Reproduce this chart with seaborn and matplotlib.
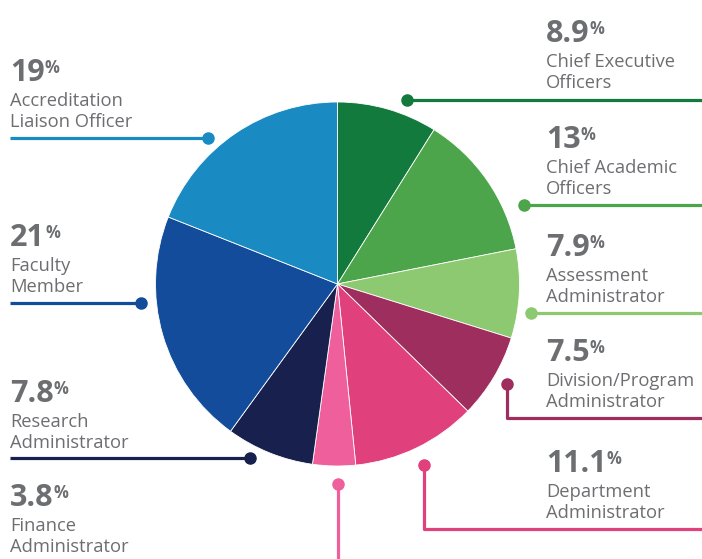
import matplotlib
matplotlib.use('Agg')
import matplotlib.pyplot as plt
import seaborn as sns

# slices, clockwise from 12 o'clock
roles = ['Chief Executive\nOfficers', 'Chief Academic\nOfficers', 'Assessment\nAdministrator',
         'Division/Program\nAdministrator', 'Department\nAdministrator', 'Finance\nAdministrator',
         'Research\nAdministrator', 'Faculty\nMember', 'Accreditation\nLiaison Officer']
shares = [8.9, 13, 7.9, 7.5, 11.1, 3.8, 7.8, 21, 19]
share_labels = ['8.9', '13', '7.9', '7.5', '11.1', '3.8', '7.8', '21', '19']
colors = ['#127a3c', '#4ca54a', '#8dc971', '#9e2e5e', '#e0407c', '#ef5f9c',
          '#18204d', '#134c9a', '#1a8ac2']

W, H = 702, 559
grey = '#6d6e71'

sns.set_theme(style='white')
plt.rcParams['font.family'] = ['Open Sans', 'DejaVu Sans']

fig = plt.figure(figsize=(W / 100, H / 100), dpi=100)
ax = fig.add_axes([0, 0, 1, 1])

# y axis inverted -> pixel coords, so startangle 270 + counterclock draws clockwise from top
palette = sns.color_palette(colors)
ax.pie(shares, colors=palette, center=(337.5, 284), radius=182,
       startangle=270, counterclock=True, frame=True,
       wedgeprops=dict(linewidth=0.6, edgecolor='white'))
ax.set_xlim(0, W)
ax.set_ylim(H, 0)
ax.set_aspect('equal')
ax.axis('off')

# label blocks: (text x, number baseline y), connector path (dot first)
text_pos = [(546, 42), (546, 148), (546, 256), (546, 361), (546, 472),
            (10, 506), (10, 402), (10, 246), (10, 81)]
paths = [
    [(407, 100), (702, 100)],
    [(524, 205), (702, 205)],
    [(531, 313), (702, 313)],
    [(507, 384), (507, 418), (702, 418)],
    [(424, 465), (424, 529), (702, 529)],
    [(338, 484), (338, 560)],
    [(250, 458), (10, 458)],
    [(141, 303), (10, 303)],
    [(208, 138), (10, 138)],
]

for lab, role, col, (tx, ty), path in zip(share_labels, roles, palette, text_pos, paths):
    num = ax.text(tx, ty, lab, fontsize=22, fontweight='bold', color=grey,
                  ha='left', va='baseline')
    ax.annotate('%', xy=(1, 1), xycoords=num, xytext=(0.2, -1),
                textcoords='offset points', fontsize=12, fontweight='bold',
                color=grey, ha='left', va='top')
    for i, line in enumerate(role.split('\n')):
        ax.text(tx, ty + 25 + 21 * i, line, fontsize=13.2, color=grey,
                ha='left', va='baseline')
    xs = [p[0] for p in path]
    ys = [p[1] for p in path]
    ax.plot(xs, ys, color=col, lw=2.3, solid_capstyle='butt', clip_on=False)
    ax.plot(xs[0], ys[0], 'o', color=col, ms=8, clip_on=False)

fig.savefig('out.png', dpi=100)
